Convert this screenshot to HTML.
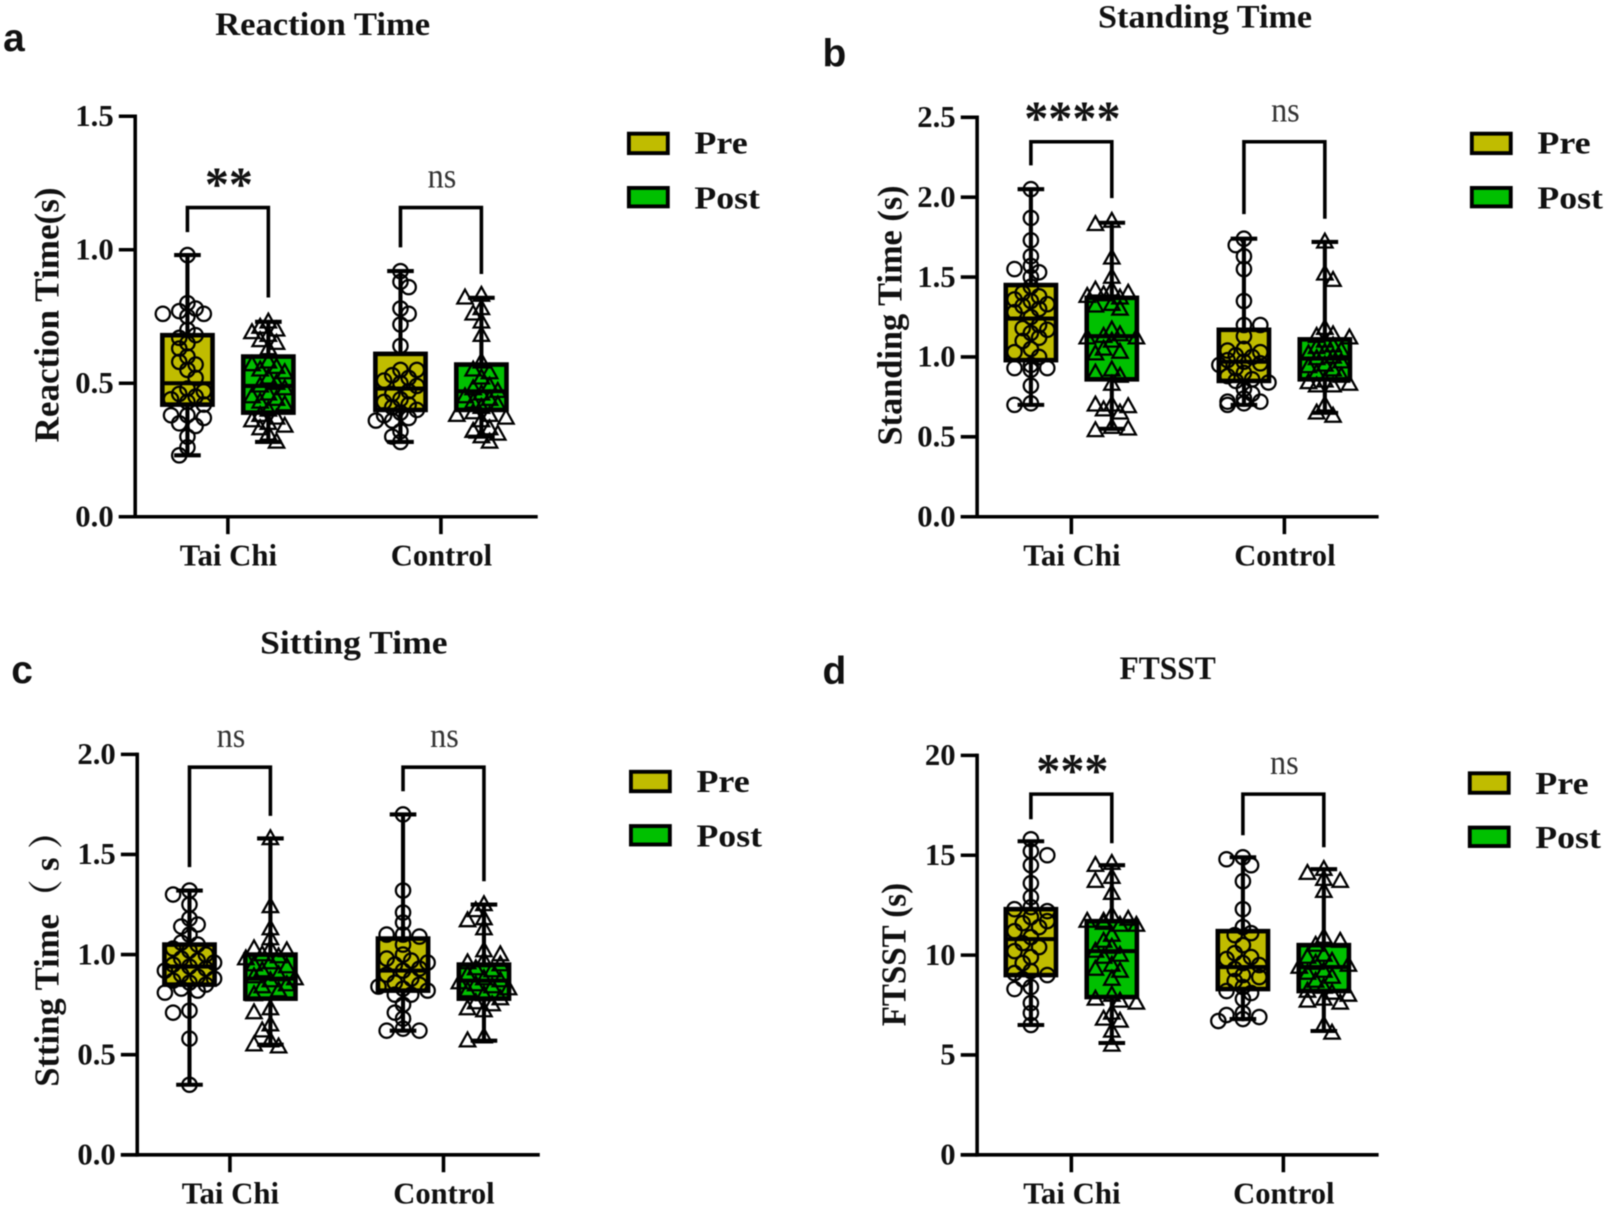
<!DOCTYPE html>
<html lang="en">
<head>
<meta charset="utf-8">
<title>Pre/Post box plots</title>
<style>
html,body{margin:0;padding:0;background:#fff;width:1606px;height:1208px;overflow:hidden}
svg{display:block;filter:blur(0.65px)}
text{font-family:"Liberation Serif","Noto Serif CJK SC",serif;fill:#111}
.t{font-weight:700;font-size:32px}
.l{font-family:"Liberation Sans",sans-serif;font-weight:700;font-size:38px}
.yt{font-weight:700;font-size:34px;text-anchor:middle}
.lg{font-weight:700;font-size:31px}
.xl{font-weight:700;font-size:30px;text-anchor:middle}
.tk{font-weight:700;font-size:30px;text-anchor:end}
.ns{font-size:34px;text-anchor:middle;fill:#333}
.st{font-weight:700;font-size:48px;text-anchor:middle}
</style>
</head>
<body>
<svg id="figure" xmlns="http://www.w3.org/2000/svg" width="1606" height="1208" viewBox="0 0 1568 1179.4">
  <text class="l" x="3" y="50">a</text>
  <text class="l" x="803" y="65">b</text>
  <text class="l" x="11" y="667">c</text>
  <text class="l" x="803" y="668">d</text>

  <text class="t" x="210" y="34" textLength="210" lengthAdjust="spacingAndGlyphs">Reaction Time</text>
  <text class="t" x="1072" y="27" textLength="209" lengthAdjust="spacingAndGlyphs">Standing Time</text>
  <text class="t" x="254" y="638" textLength="183" lengthAdjust="spacingAndGlyphs">Sitting Time</text>
  <text class="t" x="1093" y="663" textLength="94" lengthAdjust="spacingAndGlyphs">FTSST</text>

  <text class="yt" transform="translate(57,307.5) rotate(-90)" textLength="249" lengthAdjust="spacingAndGlyphs">Reaction Time(s)</text>
  <text class="yt" transform="translate(880,308) rotate(-90)" textLength="254" lengthAdjust="spacingAndGlyphs">Standing Time (s)</text>
  <text class="yt" transform="translate(57,928) rotate(-90)" textLength="266" lengthAdjust="spacingAndGlyphs">Stting Time（ s ）</text>
  <text class="yt" transform="translate(884,932) rotate(-90)" textLength="140" lengthAdjust="spacingAndGlyphs">FTSST (s)</text>

  <g id="plot-a"></g>
  <g id="plot-b"></g>
  <g id="plot-c"></g>
  <g id="plot-d"></g>

  <g>
    <rect x="614" y="130.5" width="38" height="19" fill="#c0bc00" stroke="#000" stroke-width="3.8"/>
    <text class="lg" x="678" y="150" textLength="52" lengthAdjust="spacingAndGlyphs">Pre</text>
    <rect x="614" y="183.5" width="38" height="18" fill="#00c000" stroke="#000" stroke-width="3.8"/>
    <text class="lg" x="678" y="203.5" textLength="64" lengthAdjust="spacingAndGlyphs">Post</text>
  </g>
  <g>
    <rect x="1437" y="130.5" width="38" height="19" fill="#c0bc00" stroke="#000" stroke-width="3.8"/>
    <text class="lg" x="1501" y="150" textLength="52" lengthAdjust="spacingAndGlyphs">Pre</text>
    <rect x="1437" y="183.5" width="38" height="18" fill="#00c000" stroke="#000" stroke-width="3.8"/>
    <text class="lg" x="1501" y="203.5" textLength="64" lengthAdjust="spacingAndGlyphs">Post</text>
  </g>
  <g>
    <rect x="616" y="753.5" width="38" height="19" fill="#c0bc00" stroke="#000" stroke-width="3.8"/>
    <text class="lg" x="680" y="773.5" textLength="52" lengthAdjust="spacingAndGlyphs">Pre</text>
    <rect x="616" y="806.5" width="38" height="18" fill="#00c000" stroke="#000" stroke-width="3.8"/>
    <text class="lg" x="680" y="826.5" textLength="64" lengthAdjust="spacingAndGlyphs">Post</text>
  </g>
  <g>
    <rect x="1435" y="755" width="38" height="19" fill="#c0bc00" stroke="#000" stroke-width="3.8"/>
    <text class="lg" x="1499" y="775" textLength="52" lengthAdjust="spacingAndGlyphs">Pre</text>
    <rect x="1435" y="808" width="38" height="18" fill="#00c000" stroke="#000" stroke-width="3.8"/>
    <text class="lg" x="1499" y="828" textLength="64" lengthAdjust="spacingAndGlyphs">Post</text>
  </g>
</svg>
<script>
// ---------- data (order of box arrays: Tai Chi pre, Tai Chi post, Control pre, Control post) ----------
const categories = ["Tai Chi", "Control"];

const reactionTicks = ["0.0", "0.5", "1.0", "1.5"];
const reactionMax = [0.98, 0.73, 0.92, 0.82];
const reactionQ3 = [0.68, 0.60, 0.61, 0.57];
const reactionMedian = [0.50, 0.49, 0.48, 0.47];
const reactionQ1 = [0.42, 0.39, 0.40, 0.40];
const reactionMin = [0.23, 0.28, 0.28, 0.30];
const reactionBracketTop = [1.158, 1.158];
const reactionBracketLeft = [1.066, 1.009];
const reactionBracketRight = [0.821, 0.909];
const reactionSignificance = ["**", "ns"];
const reactionTaiChiPre = [0.98,0.80,0.78,0.77,0.76,0.76,0.75,0.70,0.68,0.67,0.65,0.63,0.60,0.58,0.57,0.55,0.52,0.48,0.47,0.46,0.45,0.44,0.43,0.42,0.38,0.38,0.37,0.35,0.34,0.30,0.26,0.23];
const reactionTaiChiPost = [0.73,0.71,0.70,0.69,0.68,0.66,0.65,0.63,0.58,0.57,0.56,0.55,0.54,0.52,0.50,0.49,0.48,0.46,0.45,0.44,0.43,0.42,0.40,0.38,0.37,0.36,0.35,0.34,0.33,0.31,0.28];
const reactionControlPre = [0.92,0.88,0.86,0.78,0.76,0.72,0.64,0.55,0.55,0.53,0.52,0.51,0.50,0.49,0.47,0.46,0.44,0.43,0.42,0.41,0.40,0.39,0.38,0.37,0.36,0.36,0.32,0.30,0.28];
const reactionControlPost = [0.83,0.82,0.78,0.76,0.73,0.68,0.58,0.55,0.54,0.52,0.49,0.48,0.47,0.46,0.45,0.44,0.43,0.42,0.41,0.39,0.38,0.38,0.37,0.36,0.33,0.32,0.31,0.30,0.28];

const standingTicks = ["0.0", "0.5", "1.0", "1.5", "2.0", "2.5"];
const standingMax = [2.05, 1.84, 1.74, 1.72];
const standingQ3 = [1.45, 1.37, 1.17, 1.11];
const standingMedian = [1.24, 1.13, 0.97, 0.99];
const standingQ1 = [0.98, 0.86, 0.85, 0.86];
const standingMin = [0.70, 0.55, 0.70, 0.65];
const standingBracketTop = [2.347, 2.347];
const standingBracketLeft = [2.199, 1.894];
const standingBracketRight = [1.994, 1.865];
const standingSignificance = ["****", "ns"];
const standingTaiChiPre = [2.05,1.87,1.73,1.63,1.57,1.55,1.53,1.50,1.44,1.40,1.38,1.36,1.35,1.33,1.32,1.30,1.28,1.25,1.20,1.18,1.17,1.15,1.12,1.10,1.05,1.03,1.00,0.95,0.93,0.93,0.92,0.82,0.71,0.70];
const standingTaiChiPost = [1.85,1.83,1.62,1.50,1.42,1.42,1.40,1.39,1.38,1.37,1.33,1.32,1.30,1.17,1.14,1.13,1.12,1.12,1.10,1.05,1.03,1.02,0.92,0.90,0.88,0.83,0.70,0.70,0.69,0.67,0.65,0.56,0.55,0.54];
const standingControlPre = [1.74,1.70,1.63,1.55,1.35,1.20,1.20,1.13,1.05,1.04,1.03,1.01,1.00,0.98,0.97,0.96,0.95,0.93,0.90,0.88,0.86,0.85,0.84,0.80,0.77,0.74,0.72,0.72,0.71,0.70];
const standingControlPost = [1.72,1.52,1.48,1.18,1.14,1.13,1.12,1.10,1.07,1.06,1.04,1.03,1.02,1.00,0.99,0.97,0.95,0.94,0.92,0.90,0.88,0.85,0.84,0.83,0.82,0.82,0.70,0.65,0.63];

const sittingTicks = ["0.0", "0.5", "1.0", "1.5", "2.0"];
const sittingMax = [1.32, 1.58, 1.70, 1.25];
const sittingQ3 = [1.05, 1.00, 1.08, 0.95];
const sittingMedian = [0.94, 0.88, 0.92, 0.87];
const sittingQ1 = [0.85, 0.78, 0.82, 0.78];
const sittingMin = [0.35, 0.55, 0.62, 0.57];
const sittingBracketTop = [1.936, 1.936];
const sittingBracketLeft = [1.437, 1.816];
const sittingBracketRight = [1.693, 1.366];
const sittingSignificance = ["ns", "ns"];
const sittingTaiChiPre = [1.32,1.30,1.25,1.18,1.15,1.14,1.10,1.06,1.05,1.03,1.02,1.00,0.98,0.97,0.96,0.95,0.94,0.93,0.92,0.90,0.89,0.88,0.87,0.86,0.85,0.83,0.82,0.81,0.72,0.71,0.58,0.35];
const sittingTaiChiPost = [1.58,1.24,1.13,1.08,1.03,1.03,1.02,1.00,0.99,0.98,0.96,0.95,0.94,0.92,0.90,0.89,0.88,0.87,0.85,0.84,0.82,0.80,0.73,0.71,0.65,0.62,0.57,0.55,0.54];
const sittingControlPre = [1.70,1.32,1.21,1.16,1.10,1.10,1.09,1.05,1.00,0.98,0.97,0.96,0.95,0.93,0.92,0.90,0.88,0.86,0.85,0.84,0.83,0.82,0.80,0.80,0.75,0.71,0.68,0.63,0.62,0.62];
const sittingControlPost = [1.25,1.22,1.18,1.17,1.13,1.02,1.00,0.97,0.96,0.95,0.93,0.92,0.90,0.88,0.87,0.86,0.85,0.84,0.83,0.82,0.80,0.78,0.76,0.75,0.73,0.72,0.59,0.57];

const ftsstTicks = ["0", "5", "10", "15", "20"];
const ftsstMax = [15.7, 14.5, 14.9, 14.3];
const ftsstQ3 = [12.3, 11.7, 11.2, 10.5];
const ftsstMedian = [10.8, 10.2, 9.4, 9.4];
const ftsstQ1 = [9.0, 7.9, 8.3, 8.2];
const ftsstMin = [6.5, 5.6, 6.8, 6.2];
const ftsstBracketTop = [18.06, 18.06];
const ftsstBracketLeft = [16.8, 16.0];
const ftsstBracketRight = [15.6, 15.4];
const ftsstSignificance = ["***", "ns"];
const ftsstTaiChiPre = [15.8,15.2,15.0,14.5,13.6,12.9,12.4,12.3,12.2,11.9,11.7,11.6,11.4,11.2,10.9,10.6,10.4,10.2,9.9,9.6,9.2,9.1,9.0,8.8,8.4,8.3,7.6,7.1,6.5];
const ftsstTaiChiPost = [14.6,14.5,13.9,13.7,13.1,12.0,11.8,11.7,11.7,11.6,11.5,11.5,11.0,10.7,10.4,10.2,10.0,9.9,9.5,9.3,9.2,8.8,8.0,7.8,7.7,7.6,7.1,6.8,6.7,6.2,5.5];
const ftsstControlPre = [14.9,14.8,14.5,13.7,12.3,11.4,11.1,11.0,10.5,10.1,9.9,9.8,9.6,9.5,9.3,9.0,8.9,8.7,8.4,8.2,8.1,7.8,7.1,7.0,6.9,6.8,6.7];
const ftsstControlPost = [14.3,14.1,13.8,13.7,13.2,10.9,10.7,10.5,10.0,9.9,9.7,9.6,9.5,9.4,9.2,9.1,8.9,8.7,8.4,8.2,8.1,8.0,7.8,7.7,7.6,6.5,6.1];

// ---------- rendering ----------
const NS = "http://www.w3.org/2000/svg";
function make(parent, tag, attrs, content) {
  const el = document.createElementNS(NS, tag);
  for (const k in attrs) el.setAttribute(k, attrs[k]);
  if (content !== undefined) el.textContent = content;
  parent.appendChild(el);
  return el;
}

function swarm(values, yOf) {
  const placed = [];
  const order = values.slice().sort((a, b) => b - a);
  const step = 8, minDist = 9, maxK = 3;
  let sign = 1;
  order.forEach(v => {
    const y = yOf(v);
    let best = null, bestHits = Infinity;
    for (let k = 0; k <= maxK * 2; k++) {
      const m = Math.ceil(k / 2) * ((k % 2) ? sign : -sign);
      const dx = m * step;
      let hits = 0;
      placed.forEach(p => {
        const ddx = p.dx - dx, ddy = p.y - y;
        if (ddx * ddx + ddy * ddy < minDist * minDist) hits++;
      });
      if (hits < bestHits) { bestHits = hits; best = dx; }
      if (hits === 0) break;
    }
    sign = -sign;
    placed.push({ dx: best, y: y, v: v });
  });
  return placed;
}

function drawPanel(cfg) {
  const g = document.getElementById(cfg.id);
  const yMax = parseFloat(cfg.ticks[cfg.ticks.length - 1]);
  const yScale = v => cfg.y0 - (v / yMax) * (cfg.y0 - cfg.yTop);
  const seriesX = (group, s) => cfg.centers[group] + (s === 0 ? -39.5 : 39.5);

  // axes
  const yAxis = make(g, "line", { x1: cfg.axisX, x2: cfg.axisX, y1: yScale(yMax) - 1.7, y2: cfg.y0 + 1.7, stroke: "#000", "stroke-width": 3.5 });
  
  
  const xAxis = make(g, "line", { x1: cfg.axisX - 16, x2: cfg.xEnd, y1: cfg.y0, y2: cfg.y0, stroke: "#000", "stroke-width": 3.5 });
  
  

  cfg.ticks.forEach(t => {
    const v = parseFloat(t), y = yScale(v);
    const tick = make(g, "line", { x1: cfg.axisX - 16, x2: cfg.axisX, y1: y, y2: y, stroke: "#000", "stroke-width": 3.5 });
    
    
    const lab = make(g, "text", { class: "tk", x: cfg.axisX - 21, y: y + 9.5 }, t);
    
    
  });

  categories.forEach((c, i) => {
    const x = cfg.centers[i];
    const tick = make(g, "line", { x1: x, x2: x, y1: cfg.y0, y2: cfg.y0 + 17, stroke: "#000", "stroke-width": 3.5 });
    
    
    const lab = make(g, "text", { class: "xl", x: x + 0.5, y: cfg.y0 + 47.5, textLength: i === 0 ? 95 : 99, lengthAdjust: "spacingAndGlyphs" }, c);
    
    
  });

  // boxes + points
  cfg.points.forEach((vals, idx) => {
    const group = idx < 2 ? 0 : 1, s = idx % 2, x = seriesX(group, s);
    const series = make(g, "g", {});
    
    

    const whisker = make(series, "line", { x1: x, x2: x, y1: yScale(cfg.max[idx]), y2: yScale(cfg.min[idx]), stroke: "#000", "stroke-width": 4 });
    
    
    [cfg.max[idx], cfg.min[idx]].forEach(v => {
      const cap = make(series, "line", { x1: x - 13, x2: x + 13, y1: yScale(v), y2: yScale(v), stroke: "#000", "stroke-width": 4 });
      
      
    });
    const box = make(series, "rect", {
      x: x - 24.5, width: 49,
      y: yScale(cfg.q3[idx]), height: yScale(cfg.q1[idx]) - yScale(cfg.q3[idx]),
      fill: s === 0 ? "#c0bc00" : "#00c000", stroke: "#000", "stroke-width": 4.5
    });
    
    
    const med = make(series, "line", { x1: x - 24.5, x2: x + 24.5, y1: yScale(cfg.median[idx]), y2: yScale(cfg.median[idx]), stroke: "#000", "stroke-width": 4 });
    
    

    swarm(vals, yScale).forEach(p => {
      let mark;
      if (s === 0) {
        mark = make(series, "circle", { cx: x + p.dx, cy: p.y, r: 7, fill: "none", stroke: "#000", "stroke-width": 2.2 });
      } else {
        const px = x + p.dx, py = p.y;
        mark = make(series, "polygon", { points: `${px},${py - 8} ${px + 7.5},${py + 5.5} ${px - 7.5},${py + 5.5}`, fill: "none", stroke: "#000", "stroke-width": 2.2 });
      }
      
      
    });
  });

  // significance brackets
  cfg.significance.forEach((label, i) => {
    const xa = seriesX(i, 0), xb = seriesX(i, 1);
    const top = yScale(cfg.bracketTop[i]);
    const br = make(g, "path", {
      d: `M${xa},${yScale(cfg.bracketLeft[i])} V${top} H${xb} V${yScale(cfg.bracketRight[i])}`,
      fill: "none", stroke: "#000", "stroke-width": 3.5
    });
    
    
    const isNs = label === "ns";
    const t = make(g, "text", { class: isNs ? "ns" : "st", x: (xa + xb) / 2 + 1, y: top + (isNs ? -19.5 : -7), textLength: isNs ? 28 : label.length * 23.5, lengthAdjust: "spacingAndGlyphs" }, label);
    
    
  });
}

drawPanel({
  id: "plot-a", axisX: 132, xEnd: 525, y0: 504.5, yTop: 113.5, centers: [222.5, 430.5], ticks: reactionTicks,
  max: reactionMax, q3: reactionQ3, median: reactionMedian, q1: reactionQ1, min: reactionMin,
  bracketTop: reactionBracketTop, bracketLeft: reactionBracketLeft, bracketRight: reactionBracketRight, significance: reactionSignificance,
  points: [reactionTaiChiPre, reactionTaiChiPost, reactionControlPre, reactionControlPost]
});
drawPanel({
  id: "plot-b", axisX: 954, xEnd: 1346, y0: 504.5, yTop: 114.5, centers: [1046, 1254], ticks: standingTicks,
  max: standingMax, q3: standingQ3, median: standingMedian, q1: standingQ1, min: standingMin,
  bracketTop: standingBracketTop, bracketLeft: standingBracketLeft, bracketRight: standingBracketRight, significance: standingSignificance,
  points: [standingTaiChiPre, standingTaiChiPost, standingControlPre, standingControlPost]
});
drawPanel({
  id: "plot-c", axisX: 134, xEnd: 527, y0: 1127.5, yTop: 736.5, centers: [224.5, 433], ticks: sittingTicks,
  max: sittingMax, q3: sittingQ3, median: sittingMedian, q1: sittingQ1, min: sittingMin,
  bracketTop: sittingBracketTop, bracketLeft: sittingBracketLeft, bracketRight: sittingBracketRight, significance: sittingSignificance,
  points: [sittingTaiChiPre, sittingTaiChiPost, sittingControlPre, sittingControlPost]
});
drawPanel({
  id: "plot-d", axisX: 954, xEnd: 1346, y0: 1127.5, yTop: 737.5, centers: [1046, 1253], ticks: ftsstTicks,
  max: ftsstMax, q3: ftsstQ3, median: ftsstMedian, q1: ftsstQ1, min: ftsstMin,
  bracketTop: ftsstBracketTop, bracketLeft: ftsstBracketLeft, bracketRight: ftsstBracketRight, significance: ftsstSignificance,
  points: [ftsstTaiChiPre, ftsstTaiChiPost, ftsstControlPre, ftsstControlPost]
});
</script>
</body>
</html>
